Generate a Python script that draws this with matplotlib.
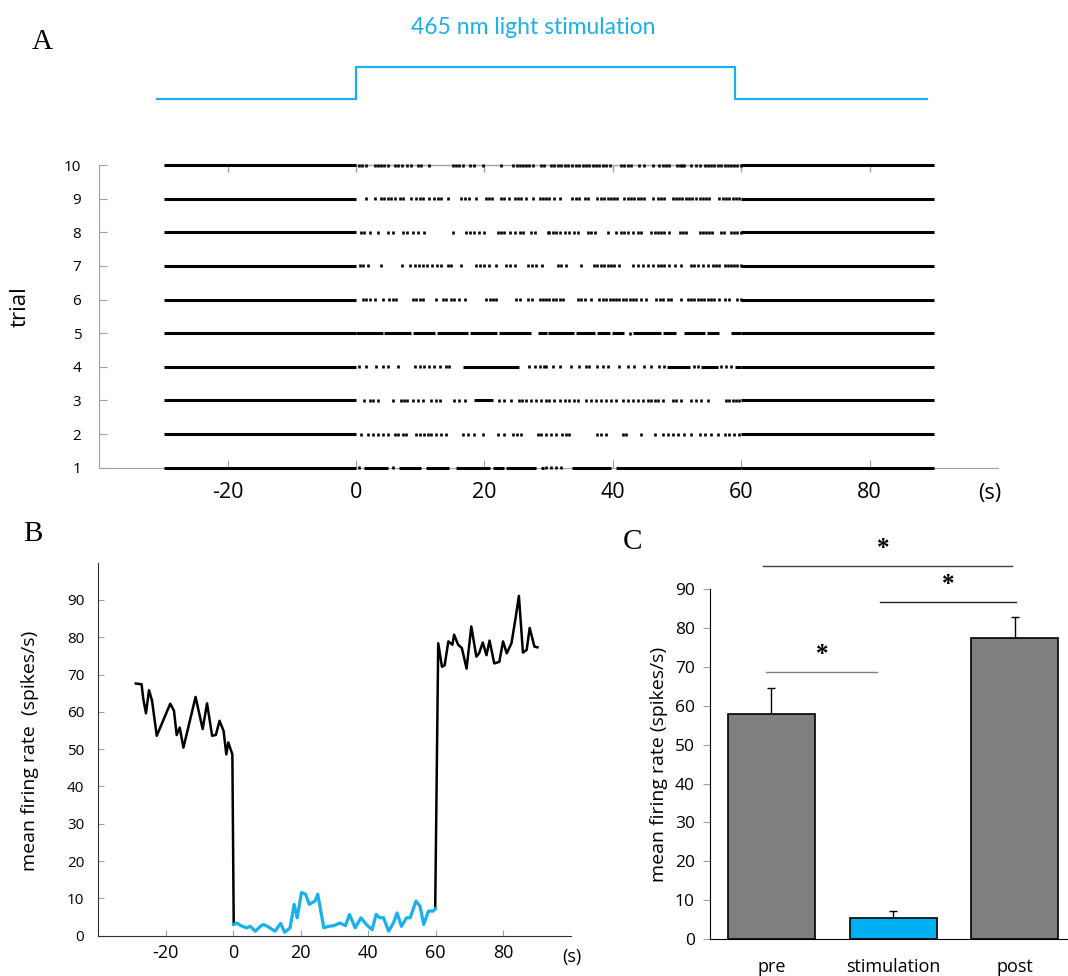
import matplotlib
matplotlib.use('Agg')
import matplotlib.pyplot as plt
import numpy as np

plt.rcParams['font.family'] = ['Open Sans', 'DejaVu Sans']
plt.rcParams['axes.unicode_minus'] = False

BLUE = '#1ab0ec'
AXGRAY = '#a0a0a0'

# ---------------- A: light stimulation + raster ----------------
light_t = [-31, 0, 0, 59, 59, 89]
light_v = [0, 0, 1, 1, 0, 0]

trials = list(range(1, 11))
tonic_periods = [(-30, 0), (60, 90)]   # firing so dense it reads as a solid line

# spike times during stimulation (s), per trial
spk10 = [0.4, 0.9, 1.5, 2.9, 3.4, 3.9, 4.4, 4.9, 6.0, 6.6, 7.2, 8.0, 8.6, 9.6, 10.1, 11.4,
         15.1, 15.6, 16.1, 16.6, 17.8, 18.3, 19.7, 22.6, 24.4, 25.0, 25.5, 26.0, 26.5, 27.0,
         27.6, 28.8, 29.3, 30.4, 30.9, 31.4, 31.9, 32.5, 33.0, 33.6, 34.3, 34.8, 35.3, 35.8,
         36.3, 36.9, 37.4, 37.9, 38.4, 38.9, 39.5, 41.3, 41.8, 42.3, 42.8, 44.1, 44.8, 46.2,
         47.2, 47.8, 48.3, 48.8, 50.0, 50.4, 50.7, 51.1, 52.2, 53.0, 53.5, 54.3, 54.8, 55.3,
         55.8, 56.3, 56.9, 57.4, 57.9, 58.4, 58.9, 59.4, 59.9]
spk9 = [1.6, 2.9, 3.9, 4.4, 4.9, 5.4, 6.0, 6.8, 7.3, 8.6, 9.3, 9.9, 10.4, 11.3, 12.2, 12.7,
        13.2, 14.3, 16.4, 17.0, 17.6, 18.7, 20.2, 20.7, 21.2, 22.6, 23.1, 23.8, 24.7, 25.2,
        25.7, 26.5, 27.5, 28.6, 29.1, 29.6, 30.1, 30.9, 31.7, 33.7, 34.3, 34.8, 35.6, 36.1,
        37.6, 38.1, 38.6, 39.2, 39.7, 40.2, 40.7, 41.8, 42.3, 42.8, 43.3, 43.9, 44.4, 44.9,
        46.2, 47.0, 47.5, 48.0, 49.3, 49.8, 50.3, 50.8, 51.4, 51.9, 52.4, 52.9, 53.5, 54.0,
        54.5, 55.0, 56.6, 57.1, 57.6, 58.1, 58.7, 59.2, 59.7]
spk8 = [0.8, 1.3, 2.1, 3.4, 4.9, 5.7, 7.3, 8.0, 8.8, 9.6, 10.6, 15.1, 17.1, 17.7, 18.4, 19.2,
        20.0, 22.1, 22.6, 23.1, 23.9, 24.7, 25.5, 26.0, 27.3, 27.8, 29.9, 30.1, 30.6, 31.2,
        31.7, 32.5, 33.2, 34.0, 34.5, 36.1, 36.6, 37.2, 39.2, 40.5, 41.2, 41.8, 42.3, 43.1,
        43.9, 44.4, 46.0, 46.5, 47.0, 47.5, 48.0, 48.8, 50.4, 50.9, 51.4, 53.5, 54.0, 54.5,
        55.0, 55.5, 56.8, 57.3, 58.4, 58.9, 59.4, 59.9]
spk7 = [0.6, 1.1, 1.8, 3.9, 7.2, 8.4, 9.1, 9.8, 10.4, 11.0, 11.8, 12.6, 13.2, 14.3, 14.8, 16.4,
        18.7, 19.3, 20.0, 20.7, 21.8, 23.4, 23.9, 24.7, 26.7, 27.4, 28.0, 29.0, 31.4, 31.9,
        32.7, 35.0, 37.1, 37.6, 38.1, 38.6, 39.2, 39.7, 40.2, 41.0, 43.1, 43.9, 44.7, 45.4,
        46.2, 47.0, 47.5, 48.0, 48.8, 49.6, 50.6, 52.2, 52.7, 53.3, 54.0, 54.8, 55.6, 56.1,
        56.6, 57.4, 57.9, 58.4, 58.9, 59.4, 59.9]
spk6 = [1.0, 1.6, 2.1, 2.9, 4.2, 5.2, 5.7, 6.2, 8.8, 9.3, 9.9, 10.4, 12.4, 13.5, 14.0, 14.8,
        15.3, 16.1, 16.9, 20.2, 20.8, 21.3, 21.8, 24.9, 25.5, 26.7, 27.4, 28.6, 29.1, 29.6,
        30.1, 30.6, 31.2, 31.7, 32.2, 34.5, 35.0, 35.6, 36.6, 37.9, 38.4, 38.9, 39.5, 40.0,
        40.5, 41.0, 41.5, 42.1, 42.6, 43.1, 43.6, 44.4, 45.2, 46.7, 47.3, 47.8, 48.6, 49.1,
        50.6, 51.7, 52.2, 52.7, 53.2, 53.7, 54.2, 54.8, 55.3, 55.8, 56.6, 57.4, 58.1, 59.4, 59.9]
spk5 = [42.7]
spk4 = [0.5, 1.6, 3.1, 4.2, 5.0, 6.5, 9.1, 9.9, 10.6, 11.4, 12.2, 13.0, 14.0, 14.5, 27.0, 27.8,
        28.6, 29.3, 29.6, 30.6, 31.7, 33.5, 34.8, 35.8, 36.3, 37.6, 38.4, 39.2, 41.0, 42.3,
        43.3, 44.9, 46.0, 47.2, 48.0, 52.7, 53.3, 56.9, 57.6, 58.4]
spk3 = [1.3, 2.1, 2.6, 3.4, 5.7, 7.0, 7.5, 8.0, 8.8, 9.6, 10.4, 11.7, 12.4, 13.0, 15.3, 16.1,
        16.9, 22.3, 23.1, 24.1, 25.4, 25.9, 26.5, 27.3, 28.0, 28.8, 29.6, 30.1, 30.9, 31.7,
        32.5, 33.2, 34.0, 34.5, 35.8, 36.6, 37.4, 38.1, 38.9, 39.7, 40.5, 41.5, 42.3, 43.1,
        43.9, 44.7, 45.4, 46.0, 46.5, 47.0, 47.8, 49.3, 49.8, 50.6, 52.2, 53.0, 53.7, 54.8,
        57.6, 58.1, 58.7, 59.2, 59.7]
spk2 = [0.8, 1.8, 2.6, 3.4, 4.2, 4.9, 6.0, 6.5, 7.3, 7.8, 9.3, 9.9, 10.6, 11.2, 11.7, 12.5,
        13.2, 14.0, 16.6, 17.4, 18.4, 19.7, 22.1, 23.1, 24.4, 25.0, 25.7, 28.3, 28.8, 29.6,
        30.4, 31.2, 32.0, 32.7, 33.2, 37.6, 38.1, 38.9, 41.5, 42.1, 44.4, 46.5, 47.8, 48.6,
        49.3, 50.1, 51.1, 52.2, 53.5, 54.3, 55.3, 56.3, 57.4, 58.1, 58.9, 59.7]
spk1 = [0.5, 5.7, 29.6, 30.4, 31.2, 31.9]

# stretches of near-continuous firing during stimulation
bur10, bur9, bur8, bur7, bur6, bur2 = [], [], [], [], [], []
bur5 = [(0, 4.2), (4.4, 8.6), (8.9, 12.3), (12.6, 17.4), (17.7, 22.0), (22.3, 27.3),
        (28.3, 29.8), (29.9, 33.9), (34.2, 37.2), (37.5, 39.5), (39.8, 41.8), (43.1, 47.5),
        (47.8, 49.8), (51.1, 54.3), (54.6, 56.6), (58.4, 60)]
bur4 = [(16.6, 25.4), (48.5, 52.0), (53.8, 56.4), (59.0, 60)]
bur3 = [(18.4, 21.3)]
bur1 = [(1.3, 4.9), (6.7, 10.1), (10.9, 14.5), (15.6, 20.8), (21.3, 23.1), (23.4, 28.0),
        (28.8, 29.3), (33.7, 39.7), (40.5, 60)]

spikes = [spk1, spk2, spk3, spk4, spk5, spk6, spk7, spk8, spk9, spk10]
bursts = [bur1, bur2, bur3, bur4, bur5, bur6, bur7, bur8, bur9, bur10]

# ---------------- B: mean firing rate trace ----------------
rate_t = [-28.8, -27.1, -26.6, -25.8, -24.9, -24.0, -22.6, -18.6, -17.5, -16.7, -15.8, -14.7,
          -11.1, -9.0, -7.7, -6.2, -5.1, -4.0, -2.8, -2.0, -1.4, -0.2, 0.2,
          1.1, 2.3, 4.0, 5.1, 6.6, 8.1, 9.0, 10.2, 12.4, 14.1, 15.3, 16.9, 18.1, 19.0, 20.3,
          21.5, 22.6, 24.3, 25.1, 26.9, 28.2, 29.9, 31.6, 33.3, 34.5, 36.2, 37.9, 39.5, 41.2,
          42.4, 43.5, 44.6, 46.1, 47.5, 48.6, 49.9, 51.4, 52.5, 54.2, 55.4, 56.5, 57.9, 59.3,
          59.9, 60.8, 61.9, 62.7, 63.8, 65.0, 65.5, 66.7, 67.8, 69.2, 70.6, 72.1, 72.9, 74.0,
          75.1, 76.0, 77.4, 78.9, 80.0, 81.1, 82.5, 83.8, 84.7, 85.9, 87.0, 87.9, 89.3, 90.2]
rate_v = [67.6, 67.4, 63.5, 59.6, 65.8, 63.0, 53.6, 62.2, 60.3, 53.8, 55.8, 50.4,
          64.0, 55.4, 62.3, 53.6, 53.8, 57.6, 54.9, 48.6, 51.8, 48.6, 3.0,
          3.4, 2.7, 2.1, 2.5, 1.2, 2.5, 3.0, 2.5, 1.2, 3.3, 0.9, 2.1, 8.4, 4.8, 11.6,
          11.1, 8.4, 9.3, 11.1, 2.1, 2.5, 2.7, 3.4, 2.7, 5.7, 2.1, 4.8, 3.0, 1.6,
          5.7, 4.8, 4.8, 1.2, 3.4, 6.1, 2.5, 4.8, 4.8, 9.3, 7.9, 3.0, 6.6, 6.6,
          7.2, 78.4, 72.1, 72.5, 78.9, 78.0, 80.7, 78.0, 77.1, 71.6, 82.9, 74.8, 75.7, 78.6,
          75.2, 79.1, 73.0, 73.4, 78.9, 75.7, 78.4, 85.6, 91.1, 75.9, 76.6, 82.5, 77.5, 77.3]

# ---------------- C: bars ----------------
conds = ['pre', 'stimulation', 'post']
means = [58.0, 5.5, 77.5]
sems = [6.5, 1.8, 5.3]
bar_colors = ['#7f7f7f', '#00b0f0', '#7f7f7f']

fig = plt.figure(figsize=(10.68, 9.76), dpi=100)

# light trace
ax_l = fig.add_axes([0.093, 0.892, 0.8415, 0.0459])
ax_l.plot(light_t, light_v, color=BLUE, lw=1.6)
ax_l.set_xlim(-40, 100)
ax_l.set_ylim(-0.2, 1.2)
ax_l.axis('off')
fig.text(0.499, 0.972, '465 nm light stimulation', color=BLUE, fontsize=16.5,
         family=['Lato', 'DejaVu Sans'], ha='center', va='center')

# raster
axA = fig.add_axes([0.093, 0.5208, 0.8415, 0.3101])
axA.set_xlim(-40, 100)
axA.set_ylim(1, 10)
for i, tr in enumerate(trials):
    for (a, b) in tonic_periods + bursts[i]:
        axA.hlines(tr, a, b, color='k', lw=2.2, clip_on=False, zorder=3)
axA.eventplot(spikes, lineoffsets=trials, linelengths=0.09, linewidths=1.9,
              colors='k', clip_on=False, zorder=3)
# gray reference line under the top trial
xt = [-20, 0, 20, 40, 60, 80]
axA.hlines(10, -30, 90, color=AXGRAY, lw=1, clip_on=False, zorder=1)
axA.vlines(xt, 10, 9.79, color=AXGRAY, lw=1, clip_on=False, zorder=1)
for s in ['top', 'right']:
    axA.spines[s].set_visible(False)
for s in ['left', 'bottom']:
    axA.spines[s].set_color(AXGRAY)
axA.set_xticks(xt)
axA.set_yticks(trials)
axA.tick_params(axis='x', direction='in', length=6, color=AXGRAY, labelsize=15.5, pad=10)
axA.tick_params(axis='y', direction='in', length=6, color=AXGRAY, labelsize=11, pad=13)
fig.text(990 / 1068, 1 - 493 / 976, '(s)', fontsize=15.5, ha='center', va='center')
fig.text(20 / 1068, 1 - 307 / 976, 'trial', fontsize=16, rotation=90, ha='center', va='center')

# B
axB = fig.add_axes([0.0918, 0.0413, 0.4424, 0.3822])
t = np.array(rate_t)
v = np.array(rate_v)
m_pre = t <= 0.2
m_stim = (t >= 0.2) & (t <= 59.9)
m_post = t >= 59.9
axB.plot(t[m_pre], v[m_pre], color='k', lw=1.8, solid_joinstyle='round')
axB.plot(t[m_post], v[m_post], color='k', lw=1.8, solid_joinstyle='round')
axB.plot(t[m_stim], v[m_stim], color=BLUE, lw=2.3, solid_joinstyle='round')
axB.set_xlim(-40, 100)
axB.set_ylim(0, 100)
axB.set_xticks([-20, 0, 20, 40, 60, 80])
axB.set_yticks(range(0, 100, 10))
for s in ['top', 'right']:
    axB.spines[s].set_visible(False)
for s in ['left', 'bottom']:
    axB.spines[s].set_color('#303030')
axB.tick_params(axis='x', direction='in', length=4, color=AXGRAY, labelsize=13, pad=6)
axB.tick_params(axis='y', direction='in', length=4, color=AXGRAY, labelsize=11, pad=10)
fig.text(572 / 1068, 1 - 957 / 976, '(s)', fontsize=13, ha='center', va='center')
fig.text(30 / 1068, 1 - 751 / 976, 'mean firing rate  (spikes/s)', fontsize=14,
         rotation=90, ha='center', va='center')

# C
axC = fig.add_axes([0.6648, 0.0379, 0.3352, 0.3583])
x = np.arange(len(conds))
axC.bar(x, means, width=0.715, color=bar_colors, edgecolor='k', lw=1.2, zorder=2)
axC.errorbar(x, means, yerr=[[0, 0, 0], sems], fmt='none', ecolor='k', elinewidth=1,
             capsize=3, capthick=1, zorder=1)
axC.set_xlim(-0.505, 2.436)
axC.set_ylim(0, 90)
axC.set_xticks(x)
axC.set_xticklabels(conds)
axC.set_yticks(range(0, 100, 10))
for s in ['top', 'right']:
    axC.spines[s].set_visible(False)
axC.tick_params(axis='x', length=0, labelsize=13, pad=14)
axC.tick_params(axis='y', direction='out', length=5, color=AXGRAY, labelsize=12.5, pad=6)
axC.set_ylabel('mean firing rate (spikes/s)', fontsize=14, labelpad=5)

sig = [(-0.045, 0.867, 68.8, 0.415, '#808080'),
       (0.89, 2.01, 86.8, 1.45, '#202020'),
       (-0.07, 1.98, 96.0, 0.916, '#404040')]
for x0, x1, y, xs, c in sig:
    axC.plot([x0, x1], [y, y], color=c, lw=1, clip_on=False)
    axC.text(xs, y + 4.5, '*', fontsize=18, fontweight='bold', ha='center', va='center',
             family=['Liberation Serif', 'DejaVu Serif'], clip_on=False)

# panel letters
for lab, px, py in [('A', 42, 42), ('B', 33, 534), ('C', 632, 542)]:
    fig.text(px / 1068, 1 - py / 976, lab, fontsize=21, ha='center', va='center',
             family=['Liberation Serif', 'DejaVu Serif'])

fig.savefig('out.png', dpi=100)
